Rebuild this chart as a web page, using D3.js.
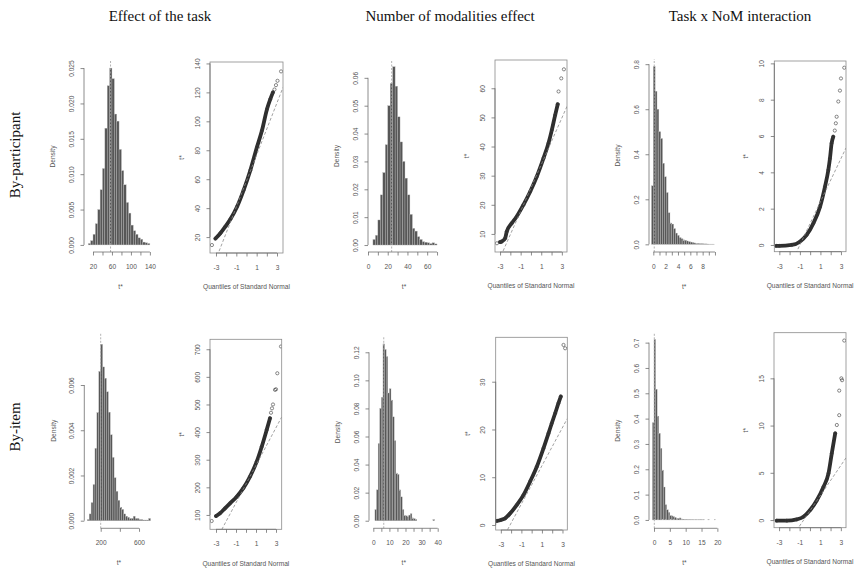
<!DOCTYPE html>
<html>
<head>
<meta charset="utf-8">
<script src="https://cdn.jsdelivr.net/npm/d3@7"></script>
<style>
  body { margin: 0; background: #fff; }
  text { font-family: Arial, "Liberation Sans", sans-serif; }
</style>
</head>
<body>
<svg width="857" height="568"></svg>
<script>
var colTitles = ["Effect of the task", "Number of modalities effect", "Task x NoM interaction"];
var rowTitles = ["By-participant", "By-item"];

// bootstrap histograms, density of each bin
var histTaskPart = [0.0002, 0.0006, 0.0015, 0.003, 0.005, 0.0078, 0.0108, 0.0165, 0.0225, 0.025, 0.0235, 0.0185, 0.0175,
  0.0135, 0.0105, 0.0085, 0.006, 0.0045, 0.0028, 0.002, 0.0015, 0.001, 0.0008, 0.0004, 0.0003, 0.0002];
var histNomPart = [0.002, 0.0035, 0.009, 0.018, 0.026, 0.036, 0.05, 0.058, 0.064, 0.057, 0.046, 0.037, 0.03,
  0.024, 0.018, 0.011, 0.006, 0.005, 0.003, 0.002, 0.0012, 0.001, 0.0008, 0.0005, 0.0008, 0.0004];
var histIntPart = [0.26, 0.79, 0.68, 0.6, 0.5, 0.47, 0.36, 0.3, 0.23, 0.14, 0.095, 0.09, 0.07, 0.05, 0.04, 0.03, 0.025,
  0.02, 0.018, 0.015, 0.012, 0.01, 0.008, 0.006, 0.005, 0.004, 0.003, 0.003, 0.002, 0.002, 0.0015, 0.001, 0.001, 0.001];
var histTaskItem = [0.00005, 0.0003, 0.0008, 0.0016, 0.0032, 0.0048, 0.0066, 0.0078, 0.0068, 0.0063, 0.0057, 0.0048,
  0.0038, 0.0028, 0.0019, 0.0013, 0.0009, 0.0006, 0.0005, 0.0003, 0.0002, 0.00015, 0.0001, 0.0001, 0.0002, 0.0001,
  0.0001, 0.00005, 0.00005, 0.00003, 0.00003, 0.00003, 0.0001];
var histNomItem = [0.008, 0.022, 0.055, 0.08, 0.088, 0.126, 0.122, 0.117, 0.091, 0.094, 0.086, 0.074, 0.057, 0.034,
  0.033, 0.022, 0.017, 0.008, 0.004, 0.0035, 0.003, 0.004, 0.005, 0.002, 0.0015, 0.001, 0, 0, 0, 0, 0, 0, 0, 0, 0, 0, 0.001];
var histIntItem = [0.384, 0.713, 0.516, 0.41, 0.342, 0.283, 0.197, 0.13, 0.06, 0.04, 0.03, 0.018, 0.016, 0.013, 0.01,
  0.007, 0.006, 0.008, 0.004, 0.003, 0.002, 0.002, 0.001, 0.001, 0.001, 0.0005, 0.0005, 0.0005, 0.0005, 0.0005,
  0.001, 0.0005, 0.0005, 0, 0, 0.0005, 0, 0, 0, 0.0005];
// first break and bin width
var histBreaks = [[10, 5], [5, 2.5], [-0.3, 0.3], [60, 20], [1, 1], [-0.5, 0.5]];
// observed statistic t0 (dashed line)
var histT0 = [57, 24, 0.15, 200, 6.5, 0.1];

// normal QQ plots: [theoretical quantile, t*]
var qqTaskPart = [[-3.05, 19], [-2.57, 22.7], [-2.08, 27.3], [-1.59, 32.3], [-0.93, 41], [-0.28, 52.5], [0.38, 66.2],
  [1.03, 82.2], [1.52, 93.6], [2.02, 108.5], [2.34, 115.3], [2.6, 120]];
var qqTaskPartTail = [[-3.4, 14.5], [2.75, 122], [2.9, 125], [3.05, 128], [3.4, 134.5]];
var qqNomPart = [[-3.0, 7.2], [-2.84, 7.4], [-2.51, 8.5], [-2.35, 10.8], [-1.86, 13.7], [-1.38, 16], [-0.73, 20],
  [-0.08, 24.5], [0.57, 29.7], [1.22, 36], [1.7, 41.1], [2.03, 45.7], [2.35, 50.8], [2.6, 54.5]];
var qqNomPartTail = [[-3.3, 6.8], [2.68, 58.9], [2.94, 63.4], [3.2, 66.5]];
var qqIntPart = [[-3.3, -0.05], [-3, -0.05], [-1.8, 0], [-1.0, 0.18], [-0.34, 0.55], [0.31, 1.19], [0.96, 2.1],
  [1.44, 3.2], [1.77, 4.13], [1.93, 4.77], [2.09, 5.6], [2.25, 5.96]];
var qqIntPartTail = [[2.4, 6.3], [2.5, 6.7], [2.58, 7.06], [2.74, 7.9], [2.9, 8.5], [3.0, 9.17], [3.32, 9.76]];
var qqTaskItem = [[-3, 96], [-2.6, 106], [-2.1, 124], [-1.6, 142], [-0.93, 166], [-0.27, 197], [0.4, 239],
  [1.07, 293], [1.57, 347], [2.07, 408], [2.4, 450]];
var qqTaskItemTail = [[-3.43, 78], [2.5, 470], [2.6, 486], [2.7, 500], [2.9, 553], [3.0, 555], [3.13, 613], [3.5, 710]];
var qqNomItem = [[-3.39, 0.84], [-3, 1.05], [-2.58, 1.4], [-2.09, 2.44], [-1.44, 4.2], [-0.79, 6.3], [-0.15, 9.1],
  [0.5, 12.2], [1.15, 16.05], [1.64, 19.2], [1.96, 21.3], [2.29, 23.4], [2.61, 25.5], [2.84, 26.9]];
var qqNomItemTail = [[3.1, 37.7], [3.26, 37]];
var qqIntItem = [[-3.23, -0.07], [-2.25, -0.07], [-1.28, 0.07], [-0.63, 0.35], [0.02, 1.06], [0.67, 2.1],
  [1.31, 3.5], [1.8, 4.94], [2.12, 7.06], [2.45, 9.18]];
var qqIntItemTail = [[2.61, 10.06], [2.84, 11.1], [2.84, 13.7], [3.05, 15], [3.12, 14.8], [3.33, 19]];
// qqline: [intercept, slope]
var qqLines = [[58.8, 18], [25.8, 8], [1.19, 1.19], [212, 68], [8.4, 4], [0.98, 1.6]];

// ticks
var histXTicks = [[20, 40, 60, 80, 100, 120, 140], [0, 10, 20, 30, 40, 50, 60, 70], [0, 1, 2, 3, 4, 5, 6, 7, 8, 9, 10],
  [200, 400, 600], [0, 5, 10, 15, 20, 25, 30, 35, 40], [0, 5, 10, 15, 20]];
var histXLabels = [[20, 60, 100, 140], [0, 20, 40, 60], [0, 2, 4, 6, 8], [200, 600], [0, 10, 20, 30, 40], [0, 5, 10, 15, 20]];
var histYTicks = [[0, 0.005, 0.01, 0.015, 0.02, 0.025], [0, 0.01, 0.02, 0.03, 0.04, 0.05, 0.06], [0, 0.2, 0.4, 0.6, 0.8],
  [0, 0.002, 0.004, 0.006], [0, 0.02, 0.04, 0.06, 0.08, 0.1, 0.12], [0, 0.1, 0.2, 0.3, 0.4, 0.5, 0.6, 0.7]];
var histYFormat = [".3f", ".2f", ".1f", ".3f", ".2f", ".1f"];
var qqXTicks = [-3, -2, -1, 0, 1, 2, 3];
var qqXLabels = [-3, -1, 1, 3];
var qqYTicks = [[20, 40, 60, 80, 100, 120, 140], [10, 20, 30, 40, 50, 60], [0, 2, 4, 6, 8, 10],
  [100, 200, 300, 400, 500, 600, 700], [0, 10, 20, 30], [0, 5, 10, 15]];

// layout (pixels) and axis limits of each panel
var histBox = [[84, 61, 157, 252], [368, 60, 440, 252], [649, 59, 719.3, 252],
  [84.3, 333, 153.4, 528.3], [369, 336, 438.5, 528.3], [649, 333, 719.9, 528.3]];
var histXDom = [[1, 155], [0, 73], [-0.7, 10.7], [29, 750], [-2.67, 40.5], [-1.58, 20.8]];
var histYDom = [[-0.001, 0.026], [-0.0025, 0.0664], [-0.034, 0.823], [-0.000336, 0.0083], [-0.0054, 0.1316], [-0.033, 0.738]];
var qqBox = [[210, 62, 283, 253], [495, 60, 567, 252], [774.3, 61, 846, 251.7],
  [210, 339.3, 281.7, 529.3], [495.7, 337.3, 567.3, 530], [774, 332.7, 846, 527.7]];
var qqXDom = [[-3.59, 3.59], [-3.49, 3.5], [-3.49, 3.49], [-3.6, 3.57], [-3.5, 3.47], [-3.49, 3.5]];
var qqYDom = [[9, 141], [3.8, 69.7], [-0.37, 10.13], [48, 736], [-1.05, 39.3], [-0.81, 19.83]];

var hists = [histTaskPart, histNomPart, histIntPart, histTaskItem, histNomItem, histIntItem];
var qqs = [[qqTaskPart, qqTaskPartTail], [qqNomPart, qqNomPartTail], [qqIntPart, qqIntPartTail],
  [qqTaskItem, qqTaskItemTail], [qqNomItem, qqNomItemTail], [qqIntItem, qqIntItemTail]];

var axisCol = "#6e6e6e";
var textCol = "#555";
var svg = d3.select("svg");

function xAxis(g, x, ticks, labels, yPos) {
  var ax = g.append("g").attr("transform", "translate(0," + yPos + ")")
    .call(d3.axisBottom(x).tickValues(ticks).tickSize(3.5).tickPadding(8.7)
      .tickFormat(function(d) { return labels.indexOf(d) >= 0 ? d : ""; }));
  ax.select(".domain").remove();
  ax.append("line").attr("x1", x(ticks[0])).attr("x2", x(ticks[ticks.length - 1]))
    .attr("stroke", axisCol).attr("stroke-width", 0.8);
  ax.selectAll(".tick line").attr("stroke", axisCol).attr("stroke-width", 0.8);
  ax.selectAll(".tick text").attr("fill", textCol).attr("font-size", 6.6)
    .attr("font-family", "Arial, 'Liberation Sans', sans-serif");
}

function yAxis(g, y, ticks, fmt, xPos) {
  var ax = g.append("g").attr("transform", "translate(" + xPos + ",0)")
    .call(d3.axisLeft(y).tickValues(ticks).tickSize(3.5).tickFormat(fmt));
  ax.select(".domain").remove();
  ax.append("line").attr("y1", y(ticks[0])).attr("y2", y(ticks[ticks.length - 1]))
    .attr("stroke", axisCol).attr("stroke-width", 0.8);
  ax.selectAll(".tick line").attr("stroke", axisCol).attr("stroke-width", 0.8);
  ax.selectAll(".tick text").attr("fill", textCol).attr("font-size", 6.6)
    .attr("font-family", "Arial, 'Liberation Sans', sans-serif")
    .attr("x", 0).attr("dy", 0).attr("text-anchor", "middle")
    .attr("transform", "translate(-10.3,0) rotate(-90)");
}

function label(g, txt, x, y, rot) {
  g.append("text").attr("transform", "translate(" + x + "," + y + ")" + (rot ? " rotate(-90)" : ""))
    .attr("text-anchor", "middle").attr("fill", textCol).attr("font-size", 6.6).text(txt);
}

function drawHist(i) {
  var b = histBox[i];
  var x = d3.scaleLinear().domain(histXDom[i]).range([b[0], b[2]]);
  var y = d3.scaleLinear().domain(histYDom[i]).range([b[3], b[1]]);
  var from = histBreaks[i][0], by = histBreaks[i][1];
  var g = svg.append("g").attr("class", "hist");

  g.selectAll("rect").data(hists[i]).enter().append("rect")
    .attr("x", function(d, k) { return x(from + k * by); })
    .attr("width", function(d, k) { return x(from + (k + 1) * by) - x(from + k * by); })
    .attr("y", function(d) { return y(d); })
    .attr("height", function(d) { return y(0) - y(d); })
    .attr("fill", "#575757")
    .attr("stroke", "#bdbdbd")
    .attr("stroke-width", 0.35);

  g.append("line")
    .attr("x1", x(histT0[i])).attr("x2", x(histT0[i]))
    .attr("y1", b[3]).attr("y2", b[1])
    .attr("stroke", "#a0a0a0").attr("stroke-width", 0.8)
    .attr("stroke-dasharray", "2,1.5");

  xAxis(g, x, histXTicks[i], histXLabels[i], b[3]);
  yAxis(g, y, histYTicks[i], d3.format(histYFormat[i]), b[0]);
  label(g, "Density", b[0] - 28.7, (b[1] + b[3]) / 2, true);
  label(g, "t*", (b[0] + b[2]) / 2, b[3] + 36.5, false);
}

function drawQQ(i) {
  var b = qqBox[i];
  var x = d3.scaleLinear().domain(qqXDom[i]).range([b[0], b[2]]);
  var y = d3.scaleLinear().domain(qqYDom[i]).range([b[3], b[1]]);
  var g = svg.append("g").attr("class", "qq");

  svg.append("clipPath").attr("id", "clip" + i).append("rect")
    .attr("x", b[0]).attr("y", b[1]).attr("width", b[2] - b[0]).attr("height", b[3] - b[1]);

  var inner = g.append("g").attr("clip-path", "url(#clip" + i + ")");
  var body = qqs[i][0], tail = qqs[i][1];

  var line = d3.line()
    .x(function(d) { return x(d[0]); })
    .y(function(d) { return y(d[1]); })
    .curve(d3.curveMonotoneX);

  inner.append("path").datum(body)
    .attr("d", line)
    .attr("fill", "none")
    .attr("stroke", "#2e2e2e")
    .attr("stroke-width", 3.8)
    .attr("stroke-linecap", "round");

  inner.selectAll("circle").data(body.concat(tail)).enter().append("circle")
    .attr("cx", function(d) { return x(d[0]); })
    .attr("cy", function(d) { return y(d[1]); })
    .attr("r", 1.6)
    .attr("fill", "none")
    .attr("stroke", "#3a3a3a")
    .attr("stroke-width", 0.6);

  var ab = qqLines[i];
  var xd = qqXDom[i];
  inner.append("line")
    .attr("x1", x(xd[0])).attr("y1", y(ab[0] + ab[1] * xd[0]))
    .attr("x2", x(xd[1])).attr("y2", y(ab[0] + ab[1] * xd[1]))
    .attr("stroke", "#8a8a8a").attr("stroke-width", 0.8)
    .attr("stroke-dasharray", "3,2");

  g.append("rect")
    .attr("x", b[0]).attr("y", b[1]).attr("width", b[2] - b[0]).attr("height", b[3] - b[1])
    .attr("fill", "none").attr("stroke", "#8a8a8a").attr("stroke-width", 0.8);

  xAxis(g, x, qqXTicks, qqXLabels, b[3]);
  yAxis(g, y, qqYTicks[i], d3.format("d"), b[0]);
  label(g, "t*", b[0] - 26, (b[1] + b[3]) / 2, true);
  label(g, "Quantiles of Standard Normal", (b[0] + b[2]) / 2, b[3] + 36.3, false);
}

for (var i = 0; i < 6; i++) {
  drawHist(i);
  drawQQ(i);
}

// column and row titles
var titleX = [160, 450, 740];
svg.selectAll(".coltitle").data(colTitles).enter().append("text")
  .attr("class", "coltitle")
  .attr("x", function(d, k) { return titleX[k]; })
  .attr("y", 21)
  .attr("text-anchor", "middle")
  .style("font-family", "'Liberation Serif', 'DejaVu Serif', serif")
  .style("font-size", "15px")
  .attr("fill", "#111")
  .text(function(d) { return d; });

var rowY = [155, 427];
svg.selectAll(".rowtitle").data(rowTitles).enter().append("text")
  .attr("class", "rowtitle")
  .attr("transform", function(d, k) { return "translate(20," + rowY[k] + ") rotate(-90)"; })
  .attr("text-anchor", "middle")
  .style("font-family", "'Liberation Serif', 'DejaVu Serif', serif")
  .style("font-size", "15px")
  .attr("fill", "#111")
  .text(function(d) { return d; });
</script>
</body>
</html>
